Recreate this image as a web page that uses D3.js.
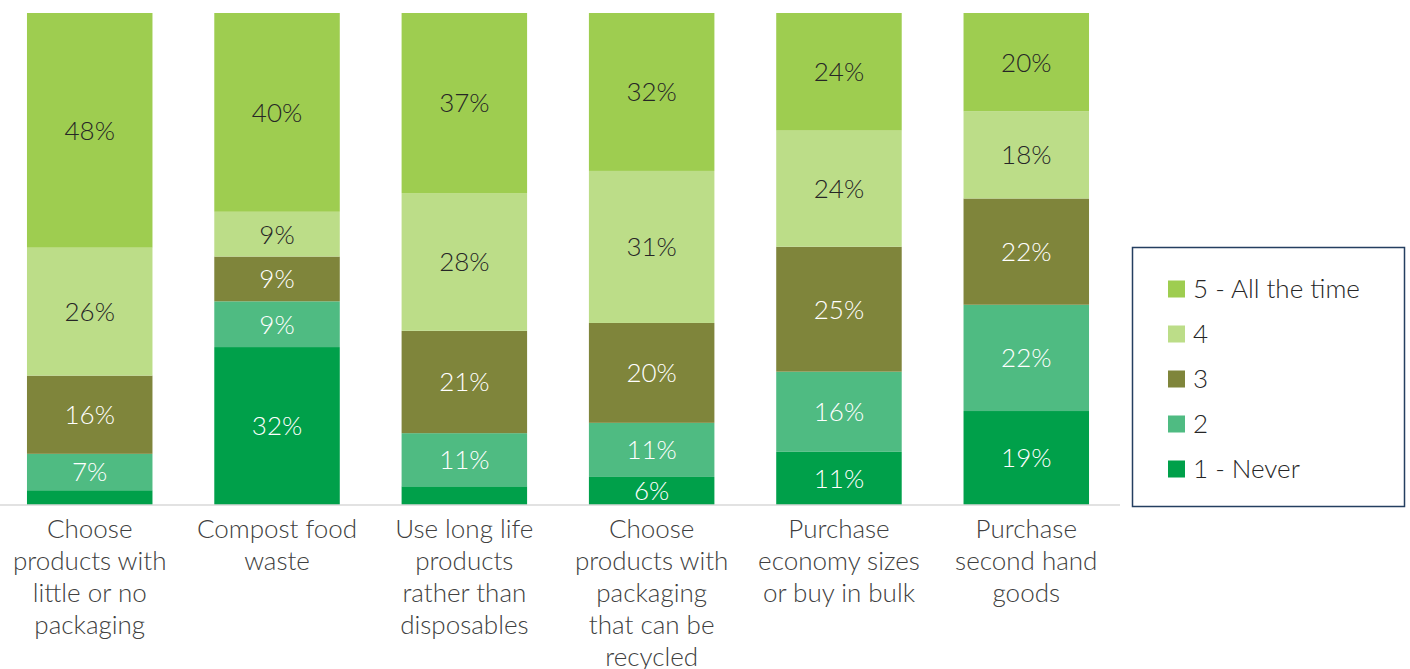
<!DOCTYPE html>
<html><head><meta charset="utf-8">
<script src="https://cdn.jsdelivr.net/npm/d3@7"></script>
<style>
html,body{margin:0;padding:0;background:#fff;}
svg{display:block;font-family:Lato,"Open Sans",sans-serif;font-weight:300;}
</style></head>
<body><svg id="chart" width="1410" height="669"></svg>
<script>
const categories = [
  "Choose\nproducts with\nlittle or no\npackaging",
  "Compost food\nwaste",
  "Use long life\nproducts\nrather than\ndisposables",
  "Choose\nproducts with\npackaging\nthat can be\nrecycled",
  "Purchase\neconomy sizes\nor buy in bulk",
  "Purchase\nsecond hand\ngoods"
];
const seriesNames = ["1 - Never", "2", "3", "4", "5 - All the time"];
const never = [3.0, 32.1, 3.8, 5.7, 10.8, 19.1];
const two   = [7.4, 9.3, 10.8, 11.0, 16.3, 21.6];
const three = [15.9, 9.1, 20.8, 20.3, 25.4, 21.6];
const four  = [26.0, 9.1, 28.0, 30.9, 23.6, 17.7];
const five  = [47.7, 40.4, 36.6, 32.1, 23.9, 20.0];
const colors = ["#00a04a", "#4fbb82", "#7f853b", "#bcdd88", "#9ecd50"];
const textColors = ["#ffffff", "#ffffff", "#ffffff", "#262626", "#262626"];

const svg = d3.select("#chart");
const rows = categories.map((c, i) => ({cat: c, s0: never[i], s1: two[i], s2: three[i], s3: four[i], s4: five[i]}));
const keys = ["s0","s1","s2","s3","s4"];
const stacked = d3.stack().keys(keys)(rows);

const x = d3.scaleBand().domain(categories).range([0, 1116]).paddingInner(0.33).paddingOuter(0.144);
const y = d3.scaleLinear().domain([0, 100]).range([505, 13]);

const g = svg.append("g");
stacked.forEach((layer, li) => {
  const lg = g.append("g");
  lg.selectAll("rect").data(layer).join("rect")
    .attr("x", d => x(d.data.cat))
    .attr("width", x.bandwidth())
    .attr("y", d => y(d[1]))
    .attr("height", d => y(d[0]) - y(d[1]))
    .attr("fill", colors[li]);
  lg.selectAll("text").data(layer.filter(d => d[1] - d[0] >= 5)).join("text")
    .attr("x", d => x(d.data.cat) + x.bandwidth() / 2)
    .attr("y", d => (y(d[0]) + y(d[1])) / 2)
    .attr("dy", "0.36em")
    .attr("text-anchor", "middle")
    .attr("font-size", 26)
    .attr("fill", textColors[li])
    .text(d => Math.round(d[1] - d[0]) + "%");
});

// axis
const xAxis = svg.append("g").attr("transform", "translate(0,505)").call(d3.axisBottom(x).tickSize(0).tickFormat(""));
xAxis.select(".domain").attr("stroke", "#d9d9d9").attr("stroke-width", 1.5).attr("d", "M0,0H1120");

const labels = svg.append("g");
categories.forEach(c => {
  const lines = c.split("\n");
  const t = labels.append("text")
    .attr("text-anchor", "middle")
    .attr("font-size", 26)
    .attr("fill", "#404040");
  lines.forEach((ln, i) => {
    t.append("tspan").attr("x", x(c) + x.bandwidth() / 2).attr("y", 538 + i * 32).text(ln);
  });
});

// legend
const leg = svg.append("g");
leg.append("rect").attr("x", 1132.5).attr("y", 247.5).attr("width", 272).attr("height", 259)
  .attr("fill", "none").attr("stroke", "#243f60").attr("stroke-width", 1.5);
const legOrder = [4, 3, 2, 1, 0];
legOrder.forEach((si, i) => {
  const cy = 289 + i * 45;
  leg.append("rect").attr("x", 1168).attr("y", cy - 8.5).attr("width", 17).attr("height", 17).attr("fill", colors[si]);
  leg.append("text").attr("x", 1193).attr("y", cy).attr("dy", "0.36em")
    .attr("font-size", 26).attr("fill", "#262626").text(seriesNames[si]);
});
</script></body></html>
